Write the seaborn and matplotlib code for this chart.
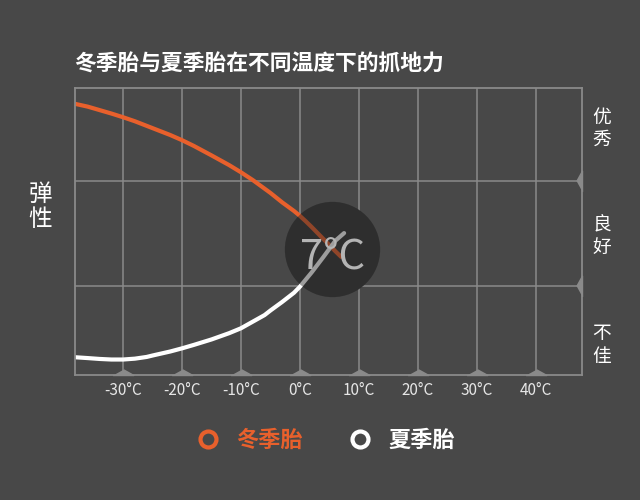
import pandas as pd
import matplotlib
matplotlib.use("Agg")
import matplotlib.pyplot as plt
from matplotlib.lines import Line2D
import seaborn as sns

# 冬季胎 / 夏季胎 抓地力曲线 (读自参考图, 纵轴 0-100)
winter_temp = [-38.2, -36, -34, -32, -30, -28, -25, -22, -20, -18, -15, -12, -10,
               -8, -5, -3, -1, 0, 1, 2, 3, 4, 5, 6, 7]
winter_grip = [94.6, 93.6, 92.4, 91.2, 89.9, 88.5, 86.1, 83.7, 81.9, 79.9, 76.6, 73.2, 70.7,
               68.0, 63.5, 60.2, 57.2, 55.5, 53.6, 51.6, 49.5, 47.4, 45.3, 43.2, 41.2]
summer_temp = [-38.2, -36, -34, -32, -30, -28, -26, -25, -22, -20, -18, -15, -12, -10,
               -8, -6, -5, -3, -1, 0, 1, 2, 3, 4, 5, 6, 7.5]
summer_grip = [6.2, 5.9, 5.6, 5.4, 5.4, 5.7, 6.3, 6.8, 8.2, 9.3, 10.5, 12.4, 14.6, 16.3,
               18.6, 20.9, 22.5, 25.5, 28.7, 30.8, 33.3, 35.8, 38.5, 41.2, 44.0, 46.8, 49.5]

x_ticks = [-30, -20, -10, 0, 10, 20, 30, 40]
x_labels = [f"{t}°C" for t in x_ticks]
level_lines = [31.0, 67.6]
level_pos = [10.5, 48.4, 86.0]
level_labels = ["不\n佳", "良\n好", "优\n秀"]
cross_temp, cross_grip, cross_label = 5.4, 43.9, "7°C"

BG = "#484848"
ORANGE = "#e8602c"
GRID = "#8a8a8a"

sns.set_theme(style="dark", rc={
    "figure.facecolor": BG, "axes.facecolor": BG,
    "axes.edgecolor": GRID, "text.color": "white",
    "xtick.color": "#e6e6e6", "ytick.color": "#e6e6e6",
})
plt.rcParams["font.family"] = ["Noto Sans CJK SC", "DejaVu Sans"]

fig = plt.figure(figsize=(6.4, 5.0), dpi=100)
ax = fig.add_axes([74.8 / 640, 0.25, (581.6 - 74.8) / 640, (375 - 88.3) / 500])

winter = pd.DataFrame({"temp": winter_temp, "grip": winter_grip})
summer = pd.DataFrame({"temp": summer_temp, "grip": summer_grip})

ax.set_xlim(-38.2, 47.8)
ax.set_ylim(0, 100)

for t in x_ticks:
    ax.axvline(t, color=GRID, lw=1.1, zorder=0)
for y in level_lines:
    ax.axhline(y, color=GRID, lw=1.1, zorder=0)

# 7°C 圆形底
ax.scatter([cross_temp], [cross_grip], s=4700, color="#363636", zorder=1, linewidths=0)

sns.lineplot(data=winter, x="temp", y="grip", ax=ax, color=ORANGE, lw=3, zorder=2)
sns.lineplot(data=summer, x="temp", y="grip", ax=ax, color="white", lw=3, zorder=2)

ax.scatter([cross_temp], [cross_grip], s=4700, color="#262626", alpha=0.45,
           zorder=3, linewidths=0)
ax.text(cross_temp + 0.2, cross_grip - 2.8, cross_label, fontsize=30, color="#b4b4b4",
        ha="center", va="center", zorder=4)

# 三角标记
up_tri = [(-1, 0), (1, 0), (0, 0.55)]
left_tri = [(0, -1), (0, 1), (-0.55, 0)]
ax.plot(x_ticks, [0] * len(x_ticks), ls="none", marker=up_tri, ms=15,
        color=GRID, clip_on=False, zorder=5)
ax.plot([47.8] * len(level_lines), level_lines, ls="none", marker=left_tri, ms=15,
        color=GRID, clip_on=False, zorder=5)

for spine in ax.spines.values():
    spine.set_color(GRID)
    spine.set_linewidth(1.3)

ax.set_xticks(x_ticks)
ax.set_xticklabels(x_labels, fontsize=11)
ax.set_yticks([])
ax.tick_params(axis="x", length=0, pad=5)
ax.set_xlabel("")
ax.set_ylabel("")
ax.grid(False)

for y, lab in zip(level_pos, level_labels):
    ax.text(1.04, y, lab, transform=ax.get_yaxis_transform(), fontsize=13.5,
            color="white", ha="center", va="center", linespacing=1.1)

fig.text(74 / 640, 1 - 64 / 500, "冬季胎与夏季胎在不同温度下的抓地力", fontsize=15.7,
         fontweight="bold", color="white", ha="left", va="center")
fig.text(40 / 640, 1 - 207 / 500, "弹\n性", fontsize=17, color="white",
         ha="center", va="center", linespacing=1.1)

handles = [
    Line2D([], [], ls="none", marker="o", ms=11.5, mew=3.0, mfc="none", mec=ORANGE),
    Line2D([], [], ls="none", marker="o", ms=11.5, mew=3.0, mfc="none", mec="white"),
]
leg = fig.legend(handles, ["冬季胎", "夏季胎"], ncol=2, loc="center",
                 bbox_to_anchor=(326 / 640, 1 - 440 / 500), frameon=False,
                 prop={"size": 16, "weight": "bold"}, handlelength=1.0,
                 handletextpad=0.75, columnspacing=2.1)
for txt, col in zip(leg.get_texts(), [ORANGE, "white"]):
    txt.set_color(col)

fig.savefig("out.png", dpi=100, facecolor=BG)
